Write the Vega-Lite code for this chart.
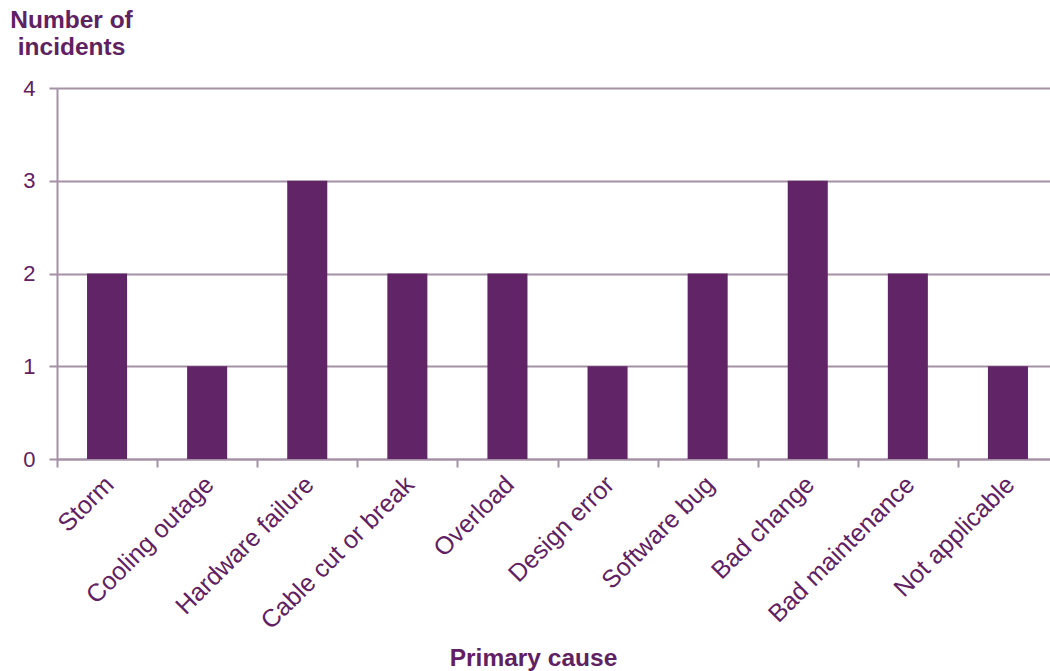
{
  "$schema": "https://vega.github.io/schema/vega-lite/v6.json",
  "width": 993,
  "height": 371,
  "autosize": {"type": "none"},
  "padding": {"left": 57, "top": 88, "right": 0, "bottom": 212},
  "background": "white",
  "data": {"values": [
    {"cause": "Storm", "n": 2},
    {"cause": "Cooling outage", "n": 1},
    {"cause": "Hardware failure", "n": 3},
    {"cause": "Cable cut or break", "n": 2},
    {"cause": "Overload", "n": 2},
    {"cause": "Design error", "n": 1},
    {"cause": "Software bug", "n": 2},
    {"cause": "Bad change", "n": 3},
    {"cause": "Bad maintenance", "n": 2},
    {"cause": "Not applicable", "n": 1}
  ]},
  "config": {
    "view": {"stroke": null},
    "font": "Liberation Sans"
  },
  "mark": {"type": "bar", "color": "#612466"},
  "encoding": {
    "x": {
      "field": "cause", "type": "nominal", "sort": null,
      "scale": {"paddingInner": 0.6, "paddingOuter": 0.3, "range": [0, 1001]},
      "axis": {
        "title": "Primary cause",
        "titleFont": "Liberation Sans", "titleFontSize": 24.5, "titleFontWeight": "bold", "titleColor": "#5f2161",
        "titleX": 476, "titleY": 206, "titleAlign": "center", "titleBaseline": "alphabetic", "titleAnchor": null,
        "labelAngle": -45, "labelAlign": "right", "labelBaseline": "middle",
        "labelFontSize": 25, "labelColor": "#5f2161", "labelPadding": 13, "labelOffset": 52, "labelLimit": 400,
        "tickOffset": -50, "tickSize": 8, "tickColor": "#a591a5", "tickWidth": 2,
        "domainColor": "#a591a5", "domainWidth": 2, "grid": false
      }
    },
    "y": {
      "field": "n", "type": "quantitative",
      "scale": {"domain": [0, 4], "nice": false},
      "axis": {
        "title": ["Number of", "incidents"],
        "titleFont": "Liberation Sans", "titleFontSize": 24.5, "titleFontWeight": "bold", "titleColor": "#5f2161",
        "titleAngle": 0, "titleAlign": "center", "titleBaseline": "alphabetic", "titleX": 14, "titleY": -61, "titleLineHeight": 27, "titleAnchor": null,
        "values": [0, 1, 2, 3, 4], "format": "d",
        "labelFontSize": 22, "labelColor": "#5f2161", "labelPadding": 14,
        "tickSize": 8, "tickColor": "#a591a5", "tickWidth": 2,
        "domainColor": "#a591a5", "domainWidth": 2,
        "grid": true, "gridColor": "#a591a5", "gridWidth": 2
      }
    }
  }
}
